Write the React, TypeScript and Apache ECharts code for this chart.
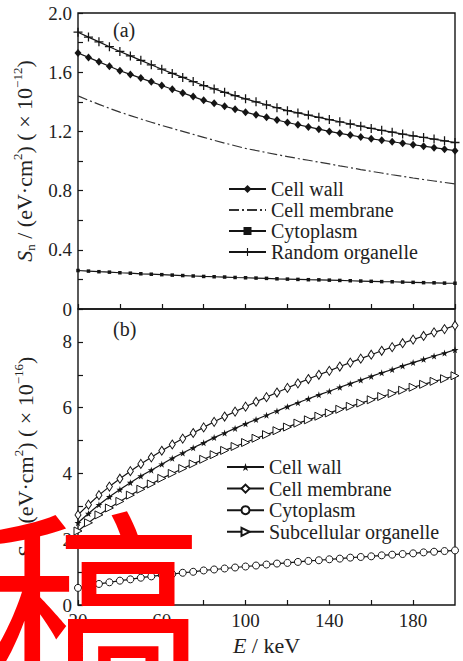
import React, { useEffect, useRef } from "react";
import * as echarts from "echarts";

// Energy (keV)
const energy = [20, 25, 30, 35, 40, 45, 50, 55, 60, 65, 70, 75, 80, 85, 90, 95, 100, 105, 110, 115, 120, 125, 130, 135, 140, 145, 150, 155, 160, 165, 170, 175, 180, 185, 190, 195, 200];

// (a) nuclear stopping, x 1e-12 eV cm^2
const snCellWall = [1.73, 1.70, 1.67, 1.64, 1.61, 1.585, 1.56, 1.535, 1.51, 1.485, 1.46, 1.435, 1.41, 1.39, 1.37, 1.35, 1.33, 1.312, 1.295, 1.277, 1.26, 1.245, 1.23, 1.215, 1.20, 1.187, 1.175, 1.162, 1.15, 1.14, 1.13, 1.12, 1.11, 1.10, 1.09, 1.08, 1.07];
const snCellMembrane = [1.44, 1.41, 1.383, 1.356, 1.33, 1.307, 1.284, 1.262, 1.24, 1.22, 1.20, 1.18, 1.16, 1.14, 1.121, 1.103, 1.085, 1.071, 1.057, 1.043, 1.03, 1.017, 1.005, 0.992, 0.98, 0.967, 0.955, 0.942, 0.93, 0.919, 0.907, 0.896, 0.885, 0.875, 0.865, 0.855, 0.845];
const snCytoplasm = [0.26, 0.256, 0.252, 0.249, 0.245, 0.242, 0.238, 0.235, 0.232, 0.229, 0.226, 0.223, 0.22, 0.218, 0.216, 0.213, 0.211, 0.209, 0.207, 0.204, 0.202, 0.2, 0.198, 0.197, 0.195, 0.193, 0.191, 0.189, 0.187, 0.185, 0.184, 0.182, 0.18, 0.178, 0.177, 0.175, 0.174];
const snRandomOrganelle = [1.87, 1.837, 1.805, 1.772, 1.74, 1.71, 1.68, 1.65, 1.62, 1.592, 1.565, 1.537, 1.51, 1.487, 1.464, 1.442, 1.42, 1.40, 1.38, 1.36, 1.34, 1.325, 1.31, 1.295, 1.28, 1.265, 1.25, 1.235, 1.22, 1.207, 1.195, 1.182, 1.17, 1.159, 1.148, 1.136, 1.125];

// (b) electronic stopping, x 1e-16 eV cm^2
const seCellWall = [2.50, 2.78, 3.05, 3.29, 3.51, 3.72, 3.92, 4.10, 4.28, 4.46, 4.62, 4.78, 4.93, 5.09, 5.23, 5.37, 5.51, 5.64, 5.77, 5.90, 6.03, 6.15, 6.27, 6.39, 6.50, 6.62, 6.73, 6.84, 6.95, 7.06, 7.16, 7.27, 7.37, 7.47, 7.57, 7.66, 7.76];
const seCellMembrane = [2.74, 3.05, 3.34, 3.60, 3.84, 4.07, 4.29, 4.49, 4.69, 4.88, 5.06, 5.23, 5.40, 5.57, 5.73, 5.88, 6.03, 6.18, 6.32, 6.46, 6.60, 6.74, 6.87, 7.00, 7.12, 7.25, 7.37, 7.49, 7.61, 7.73, 7.84, 7.96, 8.07, 8.18, 8.29, 8.39, 8.50];
const seCytoplasm = [0.52, 0.58, 0.64, 0.69, 0.74, 0.78, 0.83, 0.87, 0.91, 0.94, 0.98, 1.01, 1.05, 1.08, 1.11, 1.14, 1.17, 1.20, 1.23, 1.26, 1.28, 1.31, 1.34, 1.36, 1.39, 1.41, 1.44, 1.46, 1.48, 1.51, 1.53, 1.55, 1.57, 1.60, 1.62, 1.64, 1.66];
const seSubcellular = [2.25, 2.50, 2.74, 2.95, 3.15, 3.34, 3.52, 3.68, 3.85, 4.00, 4.15, 4.29, 4.43, 4.57, 4.70, 4.82, 4.94, 5.07, 5.18, 5.30, 5.41, 5.53, 5.63, 5.74, 5.84, 5.95, 6.04, 6.14, 6.24, 6.34, 6.43, 6.53, 6.62, 6.71, 6.80, 6.88, 6.97];

// Tick labels
const xTickLabels = [20, 60, 100, 140, 180];
const topYTickValues = [0, 0.4, 0.8, 1.2, 1.6, 2.0];
const topYTickLabels = ["0", "0.4", "0.8", "1.2", "1.6", "2.0"];
const bottomYTickValues = [0, 2, 4, 6, 8];
const bottomYTickLabels = ["0", "2", "4", "6", "8"];

const topNames = ["Cell wall", "Cell membrane", "Cytoplasm", "Random organelle"];
const bottomNames = ["Cell wall", "Cell membrane", "Cytoplasm", "Subcellular organelle"];

const FONT = '"Liberation Serif", "Times New Roman", serif';
const INK = "#151515";

const PLUS = "path://M4.3,0H5.7V4.3H10V5.7H5.7V10H4.3V5.7H0V4.3H4.3Z";
const STAR = "path://M50,0L61,35L98,35L68,57L79,91L50,70L21,91L32,57L2,35L39,35Z";

function pairs(ys: number[]) {
  return energy.map((e, i) => [e, ys[i]]);
}

function labelFrom(values: number[], labels: string[]) {
  return (v: number) => {
    const idx = values.findIndex((t) => Math.abs(t - v) < 1e-6);
    return idx >= 0 ? labels[idx] : "";
  };
}

export default function App() {
  const ref = useRef<HTMLDivElement>(null);
  useEffect(() => {
    document.body.style.margin = "0";
    if (!ref.current) return;
    const chart = echarts.init(ref.current, undefined, { renderer: "svg" });

    const lineBase = (name: string, ys: number[], axis: number) => ({
      name,
      type: "line",
      xAxisIndex: axis,
      yAxisIndex: axis,
      data: pairs(ys),
      showAllSymbol: true,
      smooth: false,
      lineStyle: { color: INK, width: 1.2 },
      emphasis: { disabled: true },
    });

    const filled = { color: INK, borderWidth: 0 };
    const hollow = { color: "#fff", borderColor: INK, borderWidth: 1 };

    const tickLabelStyle = { fontFamily: FONT, fontSize: 19, color: "#222" };
    const nameRich = {
      i: { fontFamily: FONT, fontSize: 22, fontStyle: "italic", color: "#222", lineHeight: 26, verticalAlign: "middle" },
      t: { fontFamily: FONT, fontSize: 22, color: "#222", lineHeight: 26, verticalAlign: "middle" },
      sub: { fontFamily: FONT, fontSize: 13, color: "#222", lineHeight: 13, verticalAlign: "bottom" },
      sup: { fontFamily: FONT, fontSize: 13, color: "#222", lineHeight: 13, verticalAlign: "top" },
    };

    const xAxisCommon = {
      type: "value",
      min: 20,
      max: 200,
      interval: 20,
      axisLine: { show: false },
      splitLine: { show: false },
      axisTick: { show: true, inside: true, length: 5, lineStyle: { color: INK, width: 1.2 } },
    };
    const yAxisCommon = {
      type: "value",
      min: 0,
      axisLine: { show: false },
      splitLine: { show: false },
      axisTick: { show: true, inside: true, length: 5, lineStyle: { color: INK, width: 1.2 } },
    };

    const legendCommon = {
      orient: "vertical",
      itemWidth: 37,
      itemHeight: 10,
      selectedMode: false,
      textStyle: { fontFamily: FONT, fontSize: 20, color: "#222", padding: [0, 0, 0, 0] },
    };

    const topLegendData = topNames.map((n, i) =>
      i === 1 ? { name: n + " (a)", itemStyle: { opacity: 0 } } : { name: n + " (a)" }
    );

    chart.setOption({
      animation: false,
      backgroundColor: "#fff",
      grid: [
        { left: 78, top: 13, width: 377, height: 296, show: true, borderColor: INK, borderWidth: 1.4, backgroundColor: "transparent" },
        { left: 78, top: 309, width: 377, height: 296, show: true, borderColor: INK, borderWidth: 1.4, backgroundColor: "transparent" },
      ],
      xAxis: [
        { ...xAxisCommon, gridIndex: 0, axisLabel: { show: false } },
        {
          ...xAxisCommon,
          gridIndex: 1,
          axisLabel: {
            ...tickLabelStyle,
            margin: 6,
            showMaxLabel: false,
            formatter: (v: number) => (xTickLabels.includes(Math.round(v)) ? String(Math.round(v)) : ""),
          },
          name: "{i|E}{t| / keV}",
          nameLocation: "middle",
          nameGap: 27,
          nameTextStyle: { rich: nameRich },
        },
      ],
      yAxis: [
        {
          ...yAxisCommon,
          gridIndex: 0,
          max: 2,
          interval: 0.2,
          axisLabel: { ...tickLabelStyle, margin: 6, formatter: labelFrom(topYTickValues, topYTickLabels) },
          name: "{i|S}{sub|n}{t| / (eV·cm}{sup|2}{t|) ( × 10}{sup|−12}{t|)}",
          nameLocation: "middle",
          nameGap: 40,
          nameRotate: 90,
          nameTextStyle: { rich: nameRich },
        },
        {
          ...yAxisCommon,
          gridIndex: 1,
          max: 9,
          interval: 1,
          axisLabel: { ...tickLabelStyle, margin: 6, showMaxLabel: false, formatter: labelFrom(bottomYTickValues, bottomYTickLabels) },
          name: "{i|S}{sub|e}{t| / (eV·cm}{sup|2}{t|) ( × 10}{sup|−16}{t|)}",
          nameLocation: "middle",
          nameGap: 40,
          nameRotate: 90,
          nameTextStyle: { rich: nameRich },
        },
      ],
      legend: [
        { ...legendCommon, left: 223, top: 174, itemGap: 1, data: topLegendData, formatter: (n: string) => n.replace(" (a)", "") },
        { ...legendCommon, left: 221, top: 452, itemGap: 1.6, data: bottomNames.map((n) => n + " (b)"), formatter: (n: string) => n.replace(" (b)", "") },
      ],
      series: [
        { ...lineBase(topNames[0] + " (a)", snCellWall, 0), symbol: "diamond", symbolSize: [7, 8], itemStyle: filled },
        { ...lineBase(topNames[1] + " (a)", snCellMembrane, 0), symbol: "circle", symbolSize: 0, showSymbol: false, itemStyle: { color: "#333" }, lineStyle: { color: "#333", width: 1.2, type: [10, 3, 2, 3] } },
        { ...lineBase(topNames[2] + " (a)", snCytoplasm, 0), symbol: "rect", symbolSize: 3.5, itemStyle: filled },
        { ...lineBase(topNames[3] + " (a)", snRandomOrganelle, 0), symbol: PLUS, symbolSize: 9, itemStyle: filled },
        { ...lineBase(bottomNames[0] + " (b)", seCellWall, 1), symbol: STAR, symbolSize: 7, itemStyle: filled },
        { ...lineBase(bottomNames[1] + " (b)", seCellMembrane, 1), symbol: "diamond", symbolSize: [6, 9], itemStyle: hollow },
        { ...lineBase(bottomNames[2] + " (b)", seCytoplasm, 1), symbol: "circle", symbolSize: 7, itemStyle: hollow },
        { ...lineBase(bottomNames[3] + " (b)", seSubcellular, 1), symbol: "triangle", symbolRotate: -90, symbolSize: 8, itemStyle: hollow },
      ],
      graphic: [
        { type: "text", left: 113, top: 20, style: { text: "(a)", fontFamily: FONT, fontSize: 20, fill: "#222" } },
        { type: "text", left: 113, top: 319, style: { text: "(b)", fontFamily: FONT, fontSize: 20, fill: "#222" } },
        {
          type: "text",
          x: 92,
          y: 602,
          z: 100,
          style: {
            text: "稿",
            fontFamily: '"Noto Sans CJK SC", sans-serif',
            fontWeight: "normal",
            fontSize: 220,
            fill: "#ff0000",
            align: "center",
            verticalAlign: "middle",
          },
        },
      ],
    });
    return () => chart.dispose();
  }, []);
  return <div ref={ref} style={{ width: 463, height: 661 }} />;
}
